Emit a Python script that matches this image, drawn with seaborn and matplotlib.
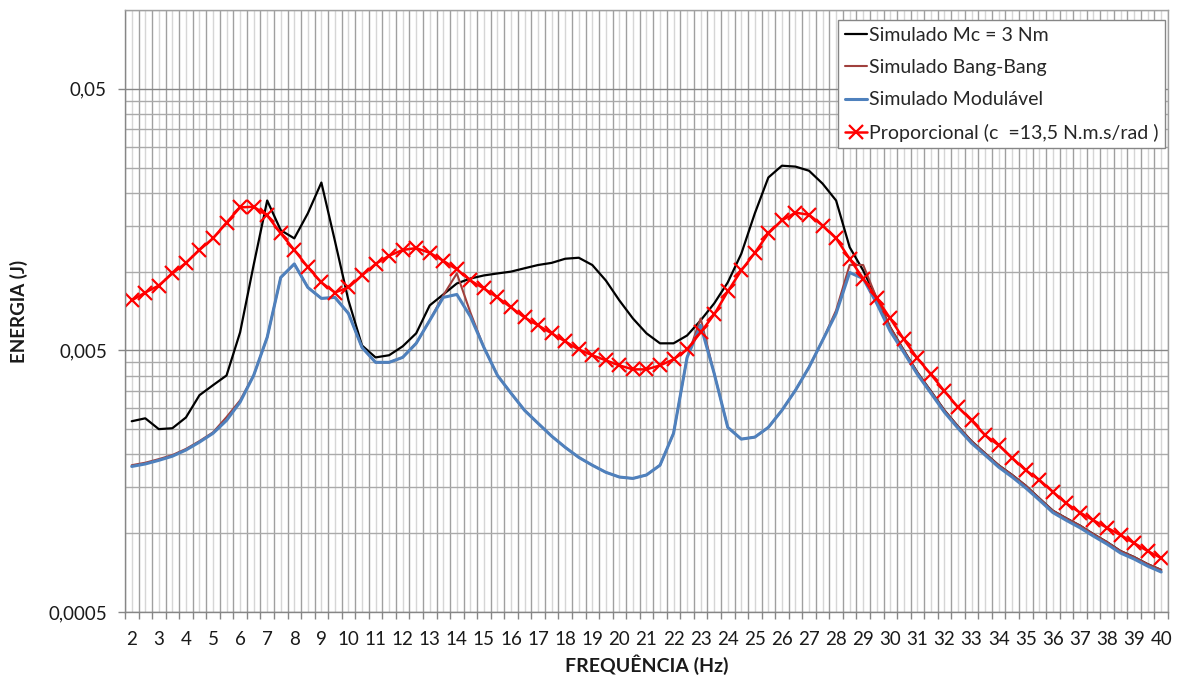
import matplotlib
matplotlib.use("Agg")
import matplotlib.pyplot as plt
import seaborn as sns
from matplotlib.ticker import FixedLocator, FixedFormatter, NullFormatter

sns.set_theme(style="white")
plt.rcParams['font.family'] = ['Lato', 'DejaVu Sans']

# Frequency (Hz)
freq = [2, 2.5, 3, 3.5, 4, 4.5, 5, 5.5, 6, 6.5, 7, 7.5, 8, 8.5, 9, 9.5, 10, 10.5,
        11, 11.5, 12, 12.5, 13, 13.5, 14, 14.5, 15, 15.5, 16, 16.5, 17, 17.5, 18, 18.5,
        19, 19.5, 20, 20.5, 21, 21.5, 22, 22.5, 23, 23.5, 24, 24.5, 25, 25.5, 26, 26.5,
        27, 27.5, 28, 28.5, 29, 29.5, 30, 30.5, 31, 31.5, 32, 32.5, 33, 33.5, 34, 34.5,
        35, 35.5, 36, 36.5, 37, 37.5, 38, 38.5, 39, 39.5, 40]

# Energy (J)
sim_mc3 = [26.8e-4, 27.5e-4, 25e-4, 25.2e-4, 27.7e-4, 33.7e-4, 36.8e-4, 40.1e-4, 58.6e-4, 106e-4,
           187e-4, 144e-4, 134e-4, 167e-4, 219e-4, 131e-4, 77.6e-4, 52.2e-4, 47e-4, 47.9e-4,
           51.8e-4, 58.1e-4, 74.3e-4, 81.8e-4, 90.1e-4, 94.1e-4, 96.7e-4, 98.4e-4, 100e-4, 103e-4,
           106e-4, 108e-4, 112e-4, 113e-4, 106e-4, 92.5e-4, 77.6e-4, 66.2e-4, 58.1e-4, 53.2e-4,
           53.2e-4, 57e-4, 65.1e-4, 75.6e-4, 90.9e-4, 117e-4, 167e-4, 229e-4, 254e-4, 252e-4,
           243e-4, 217e-4, 187e-4, 124e-4, 101e-4, 79e-4, 61.2e-4, 50e-4, 41.2e-4, 34.9e-4,
           29.5e-4, 25.6e-4, 22.5e-4, 20.2e-4, 18.2e-4, 16.7e-4, 15.2e-4, 13.6e-4, 12.2e-4, 11.4e-4,
           10.7e-4, 9.92e-4, 9.25e-4, 8.55e-4, 8.11e-4, 7.62e-4, 7.24e-4]

sim_bang = [18.2e-4, 18.6e-4, 19.2e-4, 19.9e-4, 21.0e-4, 22.5e-4, 24.3e-4, 27.8e-4, 32.2e-4, 40.1e-4,
            56.1e-4, 95e-4, 107e-4, 87e-4, 79e-4, 79.7e-4, 69.2e-4, 51.3e-4, 45e-4, 45e-4,
            47e-4, 53.2e-4, 65.1e-4, 81.1e-4, 98.4e-4, 69.8e-4, 51.3e-4, 40.1e-4, 34.3e-4, 29.5e-4,
            26.3e-4, 23.5e-4, 21.3e-4, 19.5e-4, 18.2e-4, 17.1e-4, 16.4e-4, 16.2e-4, 16.7e-4, 18.2e-4,
            24.1e-4, 47e-4, 66.2e-4, 40.8e-4, 25.4e-4, 22.9e-4, 23.3e-4, 25.4e-4, 29.5e-4, 35.2e-4,
            43.1e-4, 54.6e-4, 71.1e-4, 106e-4, 106e-4, 79e-4, 61.2e-4, 50e-4, 41.2e-4, 34.9e-4,
            29.5e-4, 25.6e-4, 22.5e-4, 20.2e-4, 18.2e-4, 16.7e-4, 15.2e-4, 13.6e-4, 12.2e-4, 11.4e-4,
            10.7e-4, 9.92e-4, 9.25e-4, 8.55e-4, 8.11e-4, 7.62e-4, 7.24e-4]

sim_mod = [18e-4, 18.4e-4, 19e-4, 19.7e-4, 20.8e-4, 22.3e-4, 24.1e-4, 27e-4, 31.7e-4, 40.1e-4,
           56.1e-4, 95e-4, 107e-4, 87e-4, 79e-4, 79.7e-4, 69.2e-4, 51.3e-4, 45e-4, 45e-4,
           47e-4, 53.2e-4, 65.1e-4, 79.7e-4, 81.8e-4, 67.4e-4, 51.3e-4, 40.1e-4, 34.3e-4, 29.5e-4,
           26.3e-4, 23.5e-4, 21.3e-4, 19.5e-4, 18.2e-4, 17.1e-4, 16.4e-4, 16.2e-4, 16.7e-4, 18.2e-4,
           24.1e-4, 47e-4, 62.3e-4, 40.8e-4, 25.4e-4, 22.9e-4, 23.3e-4, 25.4e-4, 29.5e-4, 35.2e-4,
           43.1e-4, 54.6e-4, 69.2e-4, 99.2e-4, 94.1e-4, 75.6e-4, 59.1e-4, 49.1e-4, 40.5e-4, 34.3e-4,
           29e-4, 25.2e-4, 22.1e-4, 19.9e-4, 17.9e-4, 16.4e-4, 14.9e-4, 13.4e-4, 12e-4, 11.2e-4,
           10.5e-4, 9.75e-4, 9.09e-4, 8.4e-4, 7.97e-4, 7.49e-4, 7.11e-4]

proporcional = [77.6e-4, 83.2e-4, 88.5e-4, 98.4e-4, 108e-4, 121e-4, 134e-4, 154e-4, 176e-4, 177e-4,
                164e-4, 140e-4, 121e-4, 104e-4, 90.9e-4, 83.2e-4, 87e-4, 96.7e-4, 107e-4, 115e-4,
                121e-4, 123e-4, 118e-4, 110e-4, 102e-4, 92.5e-4, 86.2e-4, 79.7e-4, 73e-4, 66.8e-4,
                62.3e-4, 58.1e-4, 54.1e-4, 50.4e-4, 47.9e-4, 45.8e-4, 43.8e-4, 42.3e-4, 42.3e-4, 43.8e-4,
                46.2e-4, 50.4e-4, 58.6e-4, 68.6e-4, 84e-4, 101e-4, 118e-4, 140e-4, 157e-4, 168e-4,
                165e-4, 150e-4, 134e-4, 112e-4, 94.1e-4, 79e-4, 66.2e-4, 55.1e-4, 46.6e-4, 40.5e-4,
                34.9e-4, 30.3e-4, 27e-4, 23.7e-4, 21.7e-4, 19.4e-4, 17.4e-4, 16e-4, 14.4e-4, 13e-4,
                12e-4, 11.2e-4, 10.5e-4, 9.84e-4, 9.17e-4, 8.55e-4, 8.04e-4]

y_ticks = [0.0005, 0.005, 0.05]
y_ticklabels = ["0,0005", "0,005", "0,05"]

fig, ax = plt.subplots(figsize=(11.8, 6.8), dpi=100)
fig.subplots_adjust(left=0.1059, right=0.9898, top=0.9853, bottom=0.1)

sns.lineplot(x=freq, y=sim_mc3, ax=ax, color="#000000", linewidth=1.6, label="Simulado Mc = 3 Nm")
sns.lineplot(x=freq, y=sim_bang, ax=ax, color="#A0403D", linewidth=1.5, label="Simulado Bang-Bang")
sns.lineplot(x=freq, y=sim_mod, ax=ax, color="#4F81BD", linewidth=2.2, label="Simulado Modulável")
sns.lineplot(x=freq, y=proporcional, ax=ax, color="#FF0000", linewidth=1.8, marker="x", markersize=9.5,
             markeredgewidth=1.6, markeredgecolor="#FF0000",
             label="Proporcional (c  =13,5 N.m.s/rad )")

ax.set_yscale("log")
ax.set_ylim(0.0005, 0.1)
ax.set_xlim(freq[0] - 0.25, freq[-1] + 0.25)

ints = [f for f in freq if f == int(f)]
ax.xaxis.set_major_locator(FixedLocator(ints))
ax.xaxis.set_major_formatter(FixedFormatter([str(int(f)) for f in ints]))
bounds = [f - 0.25 for f in freq] + [freq[-1] + 0.25]
ax.xaxis.set_minor_locator(FixedLocator(bounds))
ax.xaxis.set_minor_formatter(NullFormatter())
ax.tick_params(axis="x", which="major", length=0, pad=14, labelsize=13.5, labelcolor="#1a1a1a")
ax.tick_params(axis="x", which="minor", length=5, width=1, color="#868686", direction="out", bottom=True)

ax.yaxis.set_major_locator(FixedLocator(y_ticks))
ax.yaxis.set_major_formatter(FixedFormatter(y_ticklabels))
ax.yaxis.set_minor_locator(FixedLocator([m * k for m in y_ticks for k in range(2, 10)]))
ax.yaxis.set_minor_formatter(NullFormatter())
ax.tick_params(axis="y", which="major", length=5, width=1, color="#868686", direction="out", left=True,
               pad=8, labelsize=13.5, labelcolor="#1a1a1a")
ax.tick_params(axis="y", which="minor", length=0)

ax.set_axisbelow(True)
ax.grid(False)
ax.grid(True, which="minor", axis="x", color="#A0A0A0", linewidth=1)
ax.vlines(freq, 0, 1, transform=ax.get_xaxis_transform(), colors="#D6D6D6", linewidth=1, zorder=0.5)
ax.grid(True, which="major", axis="y", color="#868686", linewidth=1)
ax.grid(True, which="minor", axis="y", color="#AAAAAA", linewidth=1)
for s in ax.spines.values():
    s.set_color("#A0A0A0")
    s.set_linewidth(1)
ax.spines["left"].set_color("#868686")
ax.spines["bottom"].set_color("#868686")

ax.set_xlabel("FREQUÊNCIA (Hz)", fontweight="bold", fontsize=14, color="#1a1a1a")
ax.set_ylabel("ENERGIA (J)", fontweight="bold", fontsize=13.5, color="#1a1a1a")
ax.xaxis.set_label_coords(0.5, -0.071)
ax.yaxis.set_label_coords(-0.093, 0.5)

leg = ax.legend(loc="upper right", bbox_to_anchor=(0.997, 0.983), borderaxespad=0, frameon=True,
                fancybox=False, framealpha=1, edgecolor="#868686", fontsize=14, labelspacing=0.78,
                handlelength=1.1, handletextpad=0.1, borderpad=0.35)
leg.get_frame().set_linewidth(1)

fig.savefig("out.png", dpi=100)
